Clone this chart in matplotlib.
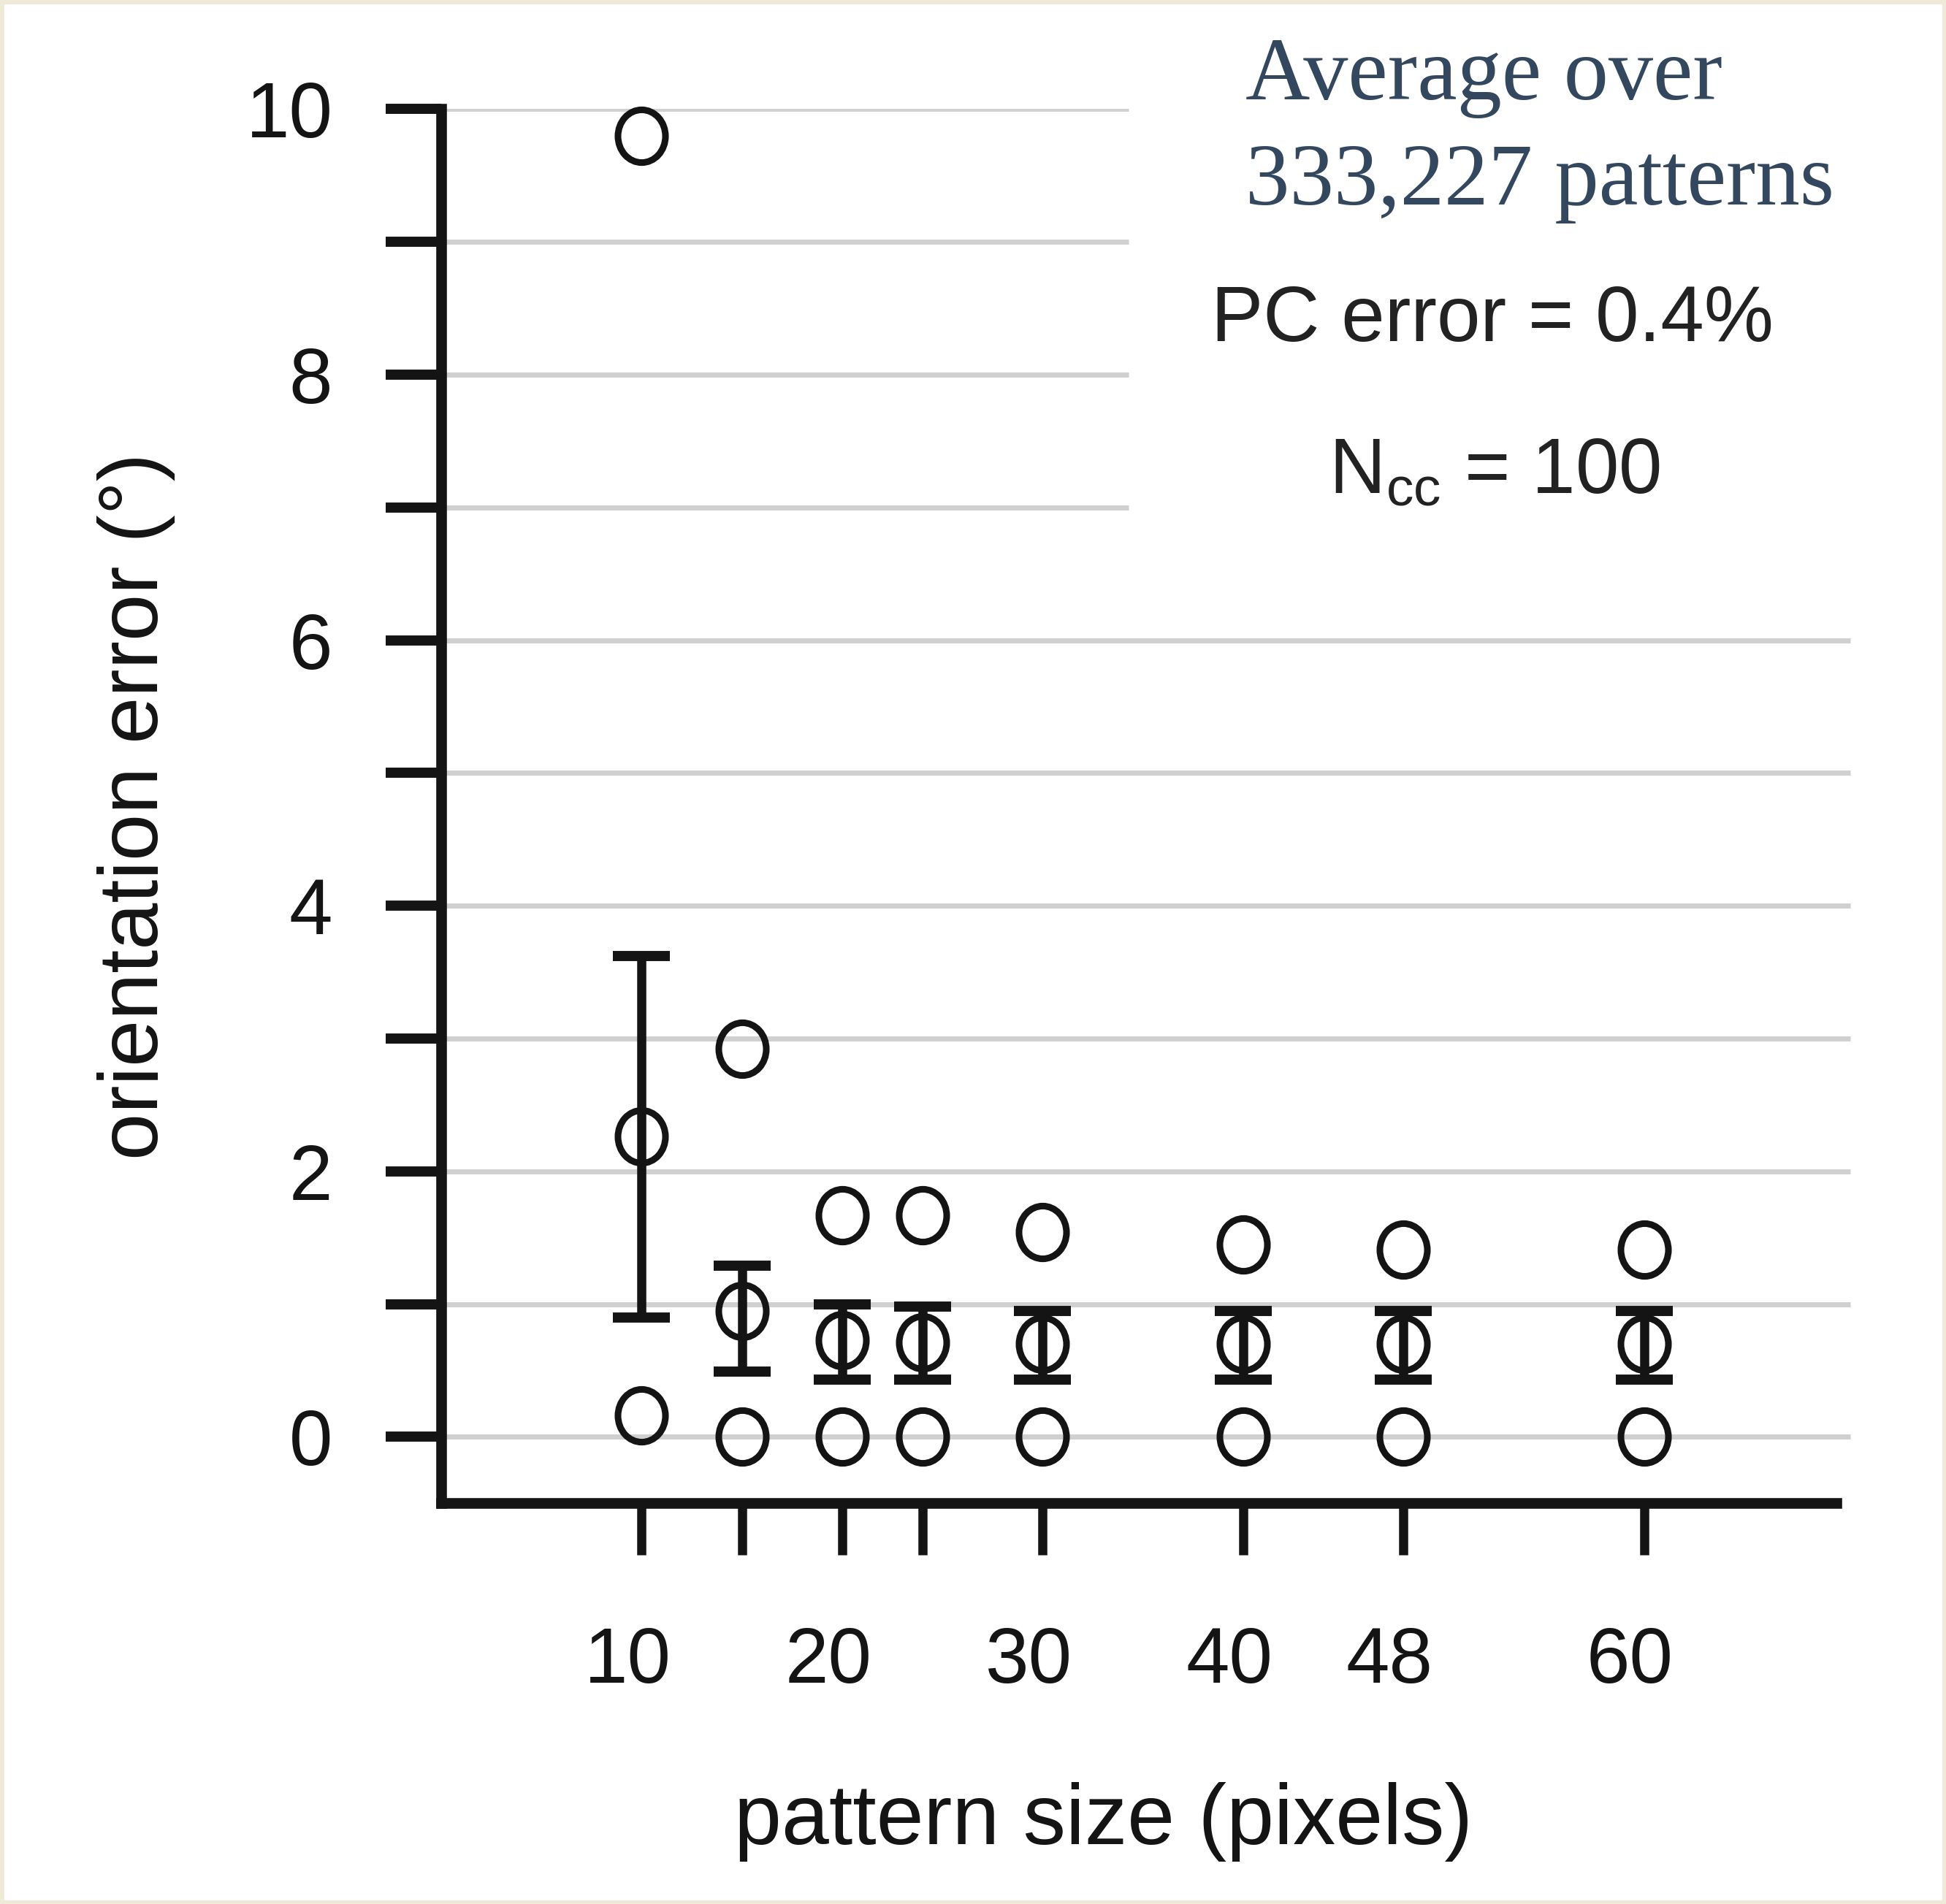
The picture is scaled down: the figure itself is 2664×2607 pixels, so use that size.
import matplotlib
matplotlib.use("Agg")
import matplotlib.pyplot as plt
import matplotlib.transforms as mtransforms
from matplotlib.path import Path
from matplotlib.patches import Rectangle
import numpy as np

# pattern sizes (pixels) and orientation error statistics (degrees)
sizes = [10, 15, 20, 24, 30, 40, 48, 60]
err_max = [9.8, 2.92, 1.67, 1.67, 1.54, 1.45, 1.41, 1.41]
err_mean = [2.26, 0.95, 0.73, 0.71, 0.70, 0.70, 0.70, 0.70]
err_upper = [3.62, 1.29, 1.00, 0.98, 0.95, 0.95, 0.95, 0.95]
err_lower = [0.90, 0.49, 0.43, 0.43, 0.43, 0.43, 0.43, 0.43]
err_min = [0.16, 0.0, 0.0, 0.0, 0.0, 0.0, 0.0, 0.0]

xtick_pos = [10, 15, 20, 24, 30, 40, 48, 60]
xtick_labels = ['10', '', '20', '', '30', '40', '48', '60']
ytick_pos = [0, 1, 2, 3, 4, 5, 6, 7, 8, 9, 10]
ytick_labels = ['0', '', '2', '', '4', '', '6', '', '8', '', '10']

# horizontal guide lines: the upper ones stop short of the annotation
grid_long = [0, 1, 2, 3, 4, 5, 6]
grid_short = [7, 8, 9, 10]

plt.rcParams['font.family'] = ['Liberation Sans', 'DejaVu Sans']
plt.rcParams['mathtext.fontset'] = 'custom'
plt.rcParams['mathtext.rm'] = 'Liberation Sans'

INK = '#141414'

fig = plt.figure(figsize=(26.64, 26.07), dpi=100, facecolor='white')
ax = fig.add_axes([0.2267, 0.2105, 0.7170, 0.7322])

ax.hlines(grid_long, 0, 70.3, colors='#d0d0d0', lw=5, zorder=0, clip_on=False)
ax.hlines(grid_short, 0, 34.3, colors='#d0d0d0', lw=5, zorder=0)

# slightly tall open circle
ring = Path.unit_circle().transformed(mtransforms.Affine2D().scale(0.9, 1.0))
mk = dict(marker=ring, markersize=52, markerfacecolor='none',
          markeredgecolor=INK, markeredgewidth=6.5, linestyle='none', clip_on=False)

mean = np.array(err_mean)
yerr = [mean - np.array(err_lower), np.array(err_upper) - mean]
ax.errorbar(sizes, err_mean, yerr=yerr, fmt='none', ecolor=INK, elinewidth=9,
            capsize=28, capthick=10, zorder=3)
ax.plot(sizes, err_mean, zorder=4, **mk)
ax.plot(sizes, err_max, zorder=4, **mk)
ax.plot(sizes, err_min, zorder=4, **mk)

ax.set_xlim(0, 69.6)
ax.set_ylim(-0.5, 10)
ax.set_xticks(xtick_pos)
ax.set_xticklabels(xtick_labels)
ax.set_yticks(ytick_pos)
ax.set_yticklabels(ytick_labels)

for spine in ('top', 'right'):
    ax.spines[spine].set_visible(False)
for spine in ('left', 'bottom'):
    ax.spines[spine].set_linewidth(10.5)
    ax.spines[spine].set_color(INK)
    ax.spines[spine].set_capstyle('projecting')

ax.tick_params(axis='y', length=55, width=10, pad=52, labelsize=77, colors=INK)
ax.tick_params(axis='x', length=51, width=9, pad=70, labelsize=77, colors=INK)

# nudge x tick labels a little to the left of their ticks
shift = mtransforms.ScaledTranslation(-0.19, 0, fig.dpi_scale_trans)
for lbl in ax.get_xticklabels():
    lbl.set_transform(lbl.get_transform() + shift)

fig.text(0.070, 0.5766, 'orientation error (°)', rotation=90, ha='center',
         va='center', fontsize=83, color=INK)
fig.text(0.567, 0.0433, 'pattern size (pixels)', ha='center', va='center',
         fontsize=84, color=INK)

navy = '#33475f'
fig.text(0.640, 0.948, 'Average over', family='Liberation Serif', fontsize=88,
         color=navy, va='baseline', ha='left')
fig.text(0.640, 0.8926, '333,227 patterns', family='Liberation Serif', fontsize=87,
         color=navy, va='baseline', ha='left')
fig.text(0.767, 0.821, 'PC error = 0.4%', fontsize=77, color='#222222',
         va='baseline', ha='center')
fig.text(0.768, 0.741, r'$\mathrm{N_{cc}}$ = 100', fontsize=77, color='#222222',
         va='baseline', ha='center')

# thin cream frame around the page
fig.patches.append(Rectangle((0, 0), 1, 1, transform=fig.transFigure, fill=False,
                             edgecolor='#f0e9d8', lw=8, zorder=10))

fig.savefig('out.png', dpi=100, facecolor='white')
